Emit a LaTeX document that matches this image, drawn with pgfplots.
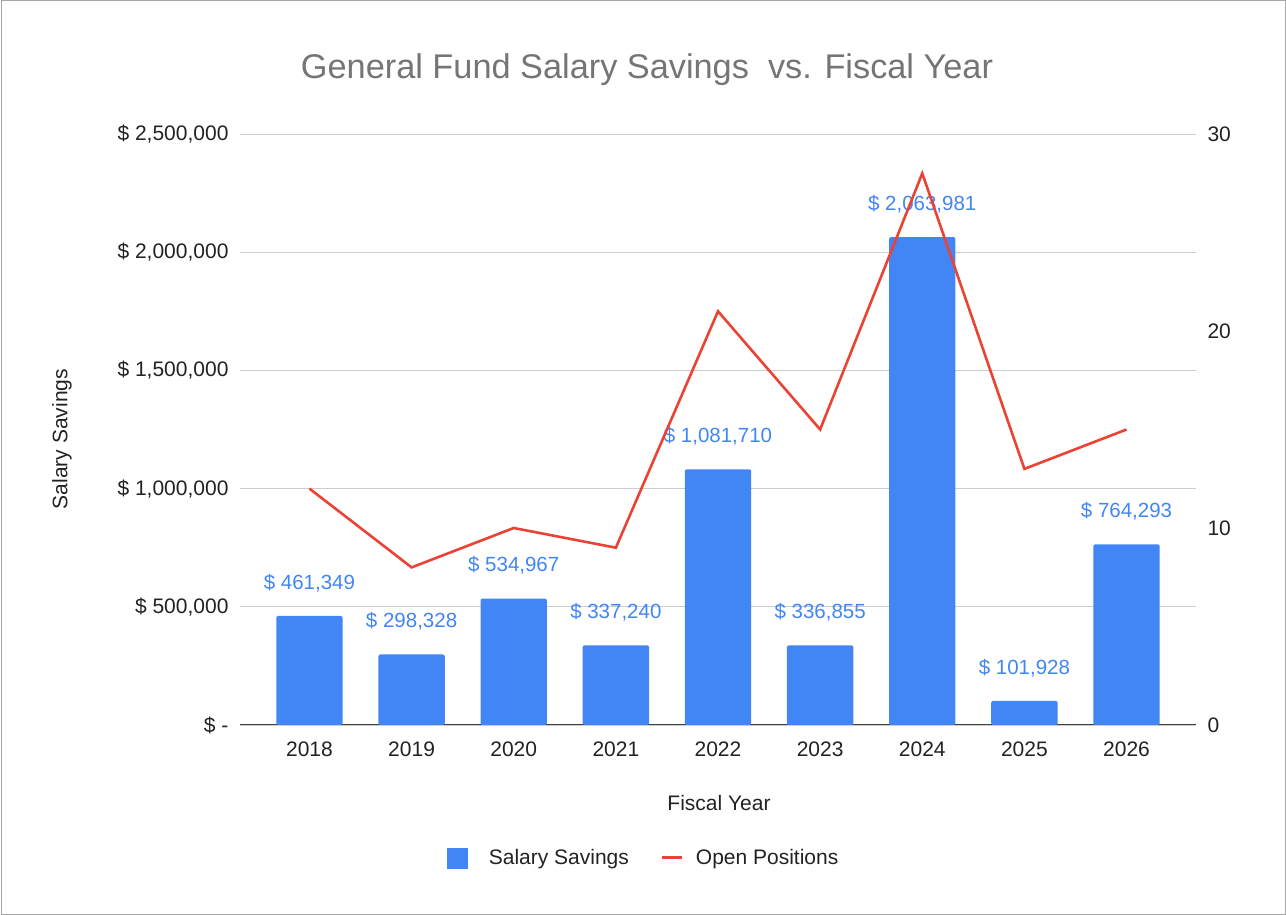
\documentclass[border=0pt]{standalone}
\usepackage{pgfplots}
\pgfplotsset{compat=1.18}
\usepackage{fontspec}
\setmainfont{Liberation Sans}
\definecolor{barblue}{HTML}{4285F4}
\definecolor{linered}{HTML}{EA4335}
\definecolor{titlegray}{HTML}{757575}
\definecolor{txt}{HTML}{222222}
\begin{document}
\begin{tikzpicture}
\useasboundingbox (0,0) rectangle (1286bp,915bp);
\draw[gray!70, line width=1bp] (1bp,1bp) rectangle (1285bp,914bp);
\node[titlegray, font=\fontsize{34.3bp}{40bp}\selectfont] at (647bp,845bp) {General Fund Salary Savings \ vs. Fiscal Year};
\node[txt, rotate=90, font=\fontsize{21bp}{25bp}\selectfont] at (62bp,476bp) {Salary Savings};
\node[txt, font=\fontsize{21bp}{25bp}\selectfont] at (719bp,112bp) {Fiscal Year};
\begin{axis}[
  at={(240bp,190bp)}, anchor=south west,
  scale only axis, width=956bp, height=591bp,
  xmin=-0.68, xmax=8.68, ymin=0, ymax=2500000,
  scaled y ticks=false,
  xtick={0,...,8}, xticklabels={2018,2019,2020,2021,2022,2023,2024,2025,2026},
  ytick={0,500000,1000000,1500000,2000000,2500000},
  yticklabels={\$ -,\$ 500{,}000,\$ 1{,}000{,}000,\$ 1{,}500{,}000,\$ 2{,}000{,}000,\$ 2{,}500{,}000},
  /pgf/number format/assume math mode=true,
  ticklabel style={txt, font=\fontsize{21bp}{25bp}\selectfont},
  yticklabel style={xshift=-8bp},
  xticklabel style={yshift=-13bp},
  axis x line*=bottom, axis y line*=left,
  y axis line style={draw=none},
  x axis line style={draw=black!75, line width=1bp, -},
  major tick length=0pt,
  ymajorgrids, grid style={draw=gray!40, line width=0.8bp},
  ybar, bar width=0.65,
  nodes near coords, point meta=explicit symbolic,
  nodes near coords style={barblue, anchor=center, yshift=33bp, font=\fontsize{20.5bp}{24bp}\selectfont},
]
\addplot[fill=barblue, draw=none, rounded corners=2bp] coordinates {
  (0,461349) [\$ 461{,}349]
  (1,298328) [\$ 298{,}328]
  (2,534967) [\$ 534{,}967]
  (3,337240) [\$ 337{,}240]
  (4,1081710) [\$ 1{,}081{,}710]
  (5,336855) [\$ 336{,}855]
  (6,2063981) [\$ 2{,}063{,}981]
  (7,101928) [\$ 101{,}928]
  (8,764293) [\$ 764{,}293]
};
\end{axis}
\begin{axis}[
  at={(240bp,190bp)}, anchor=south west,
  scale only axis, width=956bp, height=591bp,
  xmin=-0.68, xmax=8.68, ymin=0, ymax=30,
  hide x axis,
  axis y line*=right,
  y axis line style={draw=none},
  major tick length=0pt,
  ytick={0,10,20,30}, yticklabels={0,10,20,30},
  /pgf/number format/assume math mode=true,
  ticklabel style={txt, font=\fontsize{21bp}{25bp}\selectfont},
  yticklabel style={xshift=8bp},
  legend style={at={(0.4225,-0.225)}, anchor=center, draw=none, fill=none,
    legend columns=2, font=\fontsize{21bp}{25bp}\selectfont, text=txt,
    /tikz/every even column/.append style={column sep=30bp},
    legend cell align=left},
]
\addlegendimage{legend image code/.code={\fill[barblue] (0bp,-10bp) rectangle (20bp,10bp);}}
\addlegendentry{\hspace{19bp}Salary Savings}
\addplot[linered, line width=2.6bp, sharp plot, mark=none,
  legend image code/.code={\draw[linered, line width=3bp] (0bp,0bp) -- (20bp,0bp);}] coordinates {
  (0,12) (1,8) (2,10) (3,9) (4,21) (5,15) (6,28) (7,13) (8,15)
};
\addlegendentry{\hspace{10bp}Open Positions}
\end{axis}
\end{tikzpicture}
\end{document}
